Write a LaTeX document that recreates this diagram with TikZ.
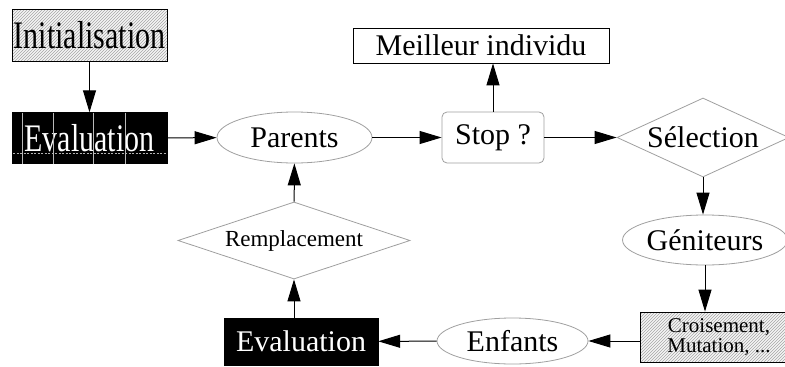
\documentclass[tikz,border=0pt]{standalone}
\usepackage{fontspec}
\usepackage{graphicx}
\setmainfont{Liberation Serif}
\usetikzlibrary{shapes.geometric,arrows.meta,patterns}
\begin{document}
\begin{tikzpicture}[x=1pt,y=-1pt,
  every node/.style={inner sep=0pt, font=\fontsize{30}{36}\selectfont},
  hatchbox/.style={draw=black, line width=0.8pt, rectangle, preaction={fill=gray!8}, pattern=north east lines, pattern color=gray!70},
  blackbox/.style={draw=black, fill=black, text=white, rectangle},
  plainbox/.style={draw=black, line width=0.8pt, rectangle},
  oval/.style={draw=gray!75, line width=0.8pt, ellipse},
  rhombus/.style={draw=gray!75, line width=0.8pt, diamond},
  stopbox/.style={draw=gray!75, line width=0.8pt, rectangle, rounded corners=5pt},
  arr/.style={line width=1pt, -{Triangle[length=22pt,width=13pt]}}]
\useasboundingbox (0,0) rectangle (785,367);
\begin{scope}
\clip (0,0) rectangle (785,367);
\node[hatchbox, minimum width=155pt, minimum height=52pt] (init) at (89.5,35) {\scalebox{1}[1.3]{Initialisation}};
\node[blackbox, minimum width=155pt, minimum height=51pt] (eval1) at (89.5,138) {\scalebox{1}[1.3]{Evaluation}};
\foreach \xx in {22,53,93,125} \draw[gray!55, line width=0.5pt] (\xx,112.5) -- (\xx,163.5);
\draw[gray!60, line width=0.6pt, dash pattern=on 2pt off 1.5pt] (13,153.5) -- (166,153.5);
\node[oval, minimum width=155pt, minimum height=51pt] (parents) at (294.5,137.5) {Parents};
\node[stopbox, minimum width=102pt, minimum height=51pt] (stop) at (493,137.5) {Stop ?};
\node[plainbox, minimum width=256pt, minimum height=35pt] (best) at (481,45.5) {Meilleur individu};
\node[rhombus, aspect=2.18, minimum width=172pt, minimum height=79pt] (sel) at (703,137.5) {};
\node (seltext) at (sel.center) {Sélection};
\node[hatchbox, minimum width=158pt, minimum height=50pt] (crois) at (719,337) {};
\node[font=\fontsize{21}{20}\selectfont, align=center] (croistext) at (crois.center) {Croisement,\\Mutation, ...};
\node[oval, minimum width=156pt, minimum height=50pt] (gen) at (705,240) {Géniteurs};
\node[oval, minimum width=151pt, minimum height=46pt] (enf) at (512.5,341) {Enfants};
\node[blackbox, minimum width=154pt, minimum height=47pt] (eval2) at (301,341.5) {Evaluation};
\node[rhombus, aspect=3, minimum width=232pt, minimum height=77pt] (rempl) at (294,240.5) {};
\node[font=\fontsize{23}{28}\selectfont] (rempltext) at (rempl.center) {Remplacement};
\end{scope}
\draw[arr] (init) -- (eval1);
\draw[arr] (eval1) -- (parents);
\draw[arr] (parents) -- (stop);
\draw[arr] (stop.north) -- (stop.north |- best.south);
\draw[arr] (stop) -- (sel);
\draw[arr] (sel.south) -- (sel.south |- gen.north);
\draw[arr] (gen.south) -- (gen.south |- crois.north);
\draw[arr] (enf.east -| crois.west) -- (enf.east);
\draw[arr] (enf) -- (eval2);
\draw[arr] (rempl.south |- eval2.north) -- (rempl.south);
\draw[arr] (rempl) -- (parents);
\end{tikzpicture}
\end{document}
